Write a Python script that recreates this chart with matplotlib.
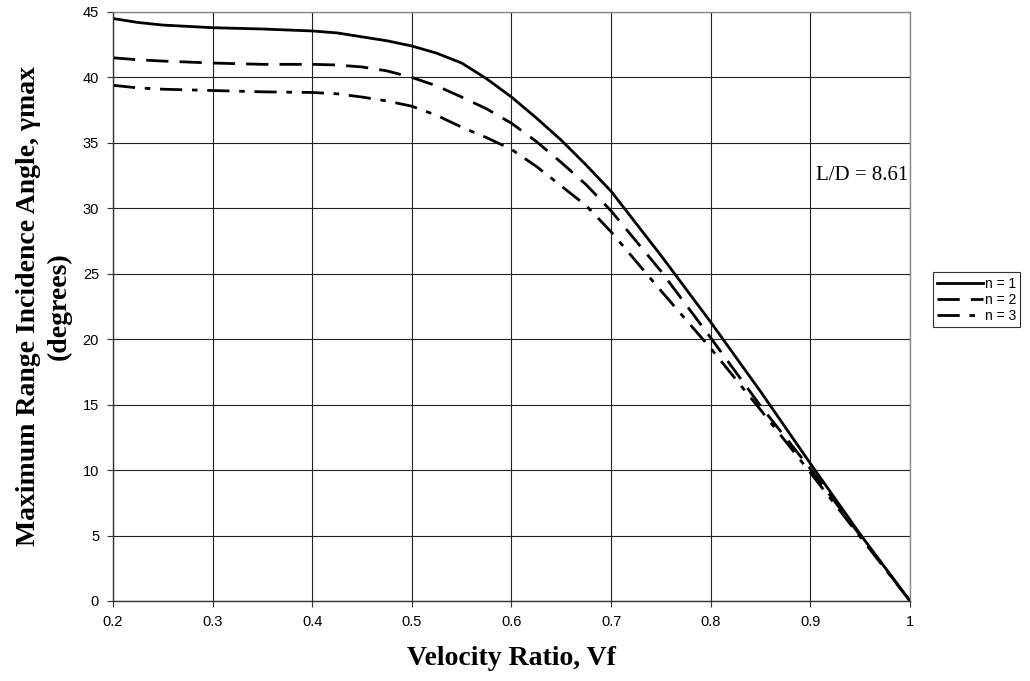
import matplotlib
matplotlib.use("Agg")
import matplotlib.pyplot as plt

# velocity ratio (x) and max-range incidence angle (deg) for each n
vf = [0.20, 0.225, 0.25, 0.30, 0.35, 0.40, 0.425, 0.45, 0.475, 0.50, 0.525, 0.55, 0.575,
      0.60, 0.625, 0.65, 0.675, 0.70, 0.75, 0.80, 0.85, 0.90, 0.95, 1.00]
gamma_n1 = [44.5, 44.2, 44.0, 43.8, 43.7, 43.55, 43.4, 43.1, 42.8, 42.4, 41.85, 41.1, 39.9,
            38.5, 36.9, 35.2, 33.3, 31.3, 26.4, 21.3, 16.0, 10.5, 5.1, 0.0]
gamma_n2 = [41.5, 41.35, 41.25, 41.1, 41.0, 41.0, 40.95, 40.8, 40.5, 40.0, 39.35, 38.5, 37.6,
            36.5, 35.1, 33.5, 31.8, 29.8, 25.2, 20.1, 14.9, 10.1, 5.0, 0.0]
gamma_n3 = [39.4, 39.2, 39.1, 39.0, 38.9, 38.85, 38.75, 38.5, 38.2, 37.8, 37.1, 36.2, 35.4,
            34.5, 33.2, 31.7, 30.2, 28.2, 23.7, 19.3, 14.6, 9.8, 4.9, 0.0]

labels = ["n = 1", "n = 2", "n = 3"]
xticks = [0.2, 0.3, 0.4, 0.5, 0.6, 0.7, 0.8, 0.9, 1.0]
xticklabels = ["0.2", "0.3", "0.4", "0.5", "0.6", "0.7", "0.8", "0.9", "1"]
yticks = list(range(0, 46, 5))

SERIF = "Liberation Serif"
SANS = "Liberation Sans"

fig = plt.figure(figsize=(10.30, 6.81), dpi=100)
ax = fig.add_axes([0.1097, 0.1175, 0.7738, 0.8649])

ax.plot(vf, gamma_n1, color="black", lw=2.0, ls="-", label=labels[0])
ax.plot(vf, gamma_n2, color="black", lw=2.0, ls=(0, (8, 4)), label=labels[1])
ax.plot(vf, gamma_n3, color="black", lw=2.0, ls=(0, (8, 3.5, 2, 3.5)), label=labels[2])

ax.set_xlim(0.2, 1.0)
ax.set_ylim(0, 45)
ax.set_xticks(xticks)
ax.set_xticklabels(xticklabels)
ax.set_yticks(yticks)
ax.grid(True, color="#222222", lw=0.8)
ax.set_axisbelow(True)
for s in ax.spines.values():
    s.set_color("#888888")
    s.set_linewidth(1.0)
ax.spines["left"].set_color("#333333")
ax.spines["bottom"].set_color("#333333")
ax.tick_params(direction="out", length=4, width=0.8, color="#333333",
               labelsize=10.5, pad=6)
for t in ax.get_xticklabels() + ax.get_yticklabels():
    t.set_fontfamily(SANS)

ax.set_xlabel("Velocity Ratio, Vf", fontfamily=SERIF, fontweight="bold",
              fontsize=20, labelpad=12)
ax.set_ylabel("Maximum Range Incidence Angle, γmax\n(degrees)", fontfamily=SERIF,
              fontweight="bold", fontsize=20, labelpad=8, linespacing=1.3)

ax.text(0.998, 32.5, "L/D = 8.61", ha="right", va="center",
        fontfamily=SERIF, fontsize=15)

leg = fig.legend(loc="upper left", bbox_to_anchor=(0.906, 0.600),
                 prop={"family": SANS, "size": 10}, frameon=True, fancybox=False,
                 edgecolor="black", handlelength=3.3, handletextpad=0.1,
                 labelspacing=0.15, borderpad=0.3, borderaxespad=0)
leg.get_frame().set_linewidth(0.8)

fig.savefig("out.png", dpi=100)
